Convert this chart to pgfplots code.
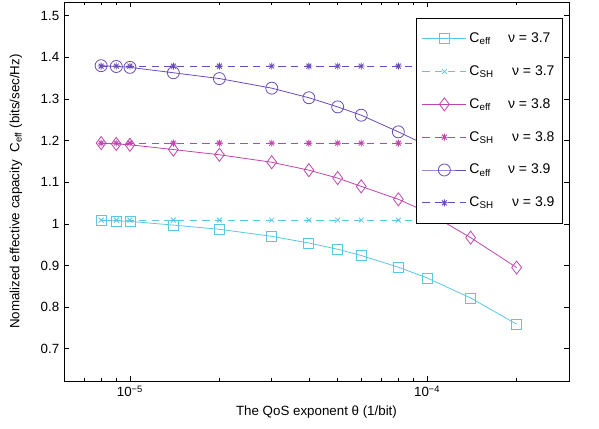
\documentclass[border=0pt]{standalone}
\usepackage{fontspec}
\setmainfont{Liberation Sans}
\usepackage{pgfplots}
\pgfplotsset{compat=1.18}

\definecolor{cy}{RGB}{90,200,225}
\definecolor{mg}{RGB}{190,70,170}
\definecolor{pu}{RGB}{105,75,185}

% MATLAB-like '*' marker
\pgfdeclareplotmark{matstar}{%
  \pgfpathmoveto{\pgfqpoint{-\pgfplotmarksize}{0pt}}\pgfpathlineto{\pgfqpoint{\pgfplotmarksize}{0pt}}%
  \pgfpathmoveto{\pgfqpoint{0pt}{-\pgfplotmarksize}}\pgfpathlineto{\pgfqpoint{0pt}{\pgfplotmarksize}}%
  \pgfpathmoveto{\pgfqpoint{-.707\pgfplotmarksize}{-.707\pgfplotmarksize}}\pgfpathlineto{\pgfqpoint{.707\pgfplotmarksize}{.707\pgfplotmarksize}}%
  \pgfpathmoveto{\pgfqpoint{-.707\pgfplotmarksize}{.707\pgfplotmarksize}}\pgfpathlineto{\pgfqpoint{.707\pgfplotmarksize}{-.707\pgfplotmarksize}}%
  \pgfusepathqstroke}

\pgfplotstableread{
theta    ceffA  cshA   ceffB  cshB   ceffC  cshC
8e-6     1.009  1.009  1.194  1.194  1.380  1.379
9e-6     1.007  1.009  1.192  1.194  1.378  1.379
1e-5     1.006  1.009  1.190  1.194  1.376  1.379
1.4e-5   0.997  1.009  1.1785 1.194  1.363  1.379
2e-5     0.987  1.009  1.166  1.194  1.349  1.379
3e-5     0.970  1.009  1.148  1.194  1.326  1.379
4e-5     0.954  1.009  1.129  1.194  1.303  1.379
5e-5     0.939  1.009  1.110  1.194  1.281  1.379
6e-5     0.924  1.009  1.090  1.194  1.261  1.379
8e-5     0.896  1.009  1.059  1.194  1.221  1.379
1e-4     0.870  1.009  1.028  1.194  1.188  1.379
1.4e-4   0.822  1.009  0.967  1.194  1.117  1.379
2e-4     0.759  1.009  0.895  1.194  1.034  1.379
}\data

\begin{document}
\begin{tikzpicture}
\begin{axis}[
  width=378.75pt, height=284.25pt, scale only axis,
  xmode=log, xmin=6e-6, xmax=3e-4,
  ymin=0.6225, ymax=1.533,
  xtick={1e-5,1e-4},
  xticklabels={10\textsuperscript{−5},10\textsuperscript{−4}},
  minor xtick={6e-6,7e-6,8e-6,9e-6,2e-5,3e-5,4e-5,5e-5,6e-5,7e-5,8e-5,9e-5,2e-4,3e-4},
  ytick={0.7,0.8,0.9,1,1.1,1.2,1.3,1.4,1.5},
  yticklabel style={/pgf/number format/fixed},
  /pgf/number format/assume math mode=true,
  tick align=inside,
  major tick length=4pt, minor tick length=2.5pt,
  tick style={black, line width=0.5pt},
  axis line style={black, line width=0.6pt},
  xlabel={The QoS exponent θ (1/bit)},
  ylabel={Nomalized effective capacity \ C\textsubscript{eff} (bits/sec/Hz)},
  ylabel shift=7pt,
  every axis plot/.append style={line width=0.6pt},
  legend cell align=left,
  legend style={at={(0.988,0.9586)}, anchor=north east, draw=black,
    line width=0.6pt, fill=white, row sep=11.8pt, inner ysep=9pt, inner xsep=4pt,
    font=\fontsize{10.5}{12}\selectfont},
  legend image code/.code={\draw[mark repeat=2,mark phase=2]
    plot coordinates {(0cm,0cm) (0.58cm,0cm) (1.16cm,0cm)};},
]
\addplot[cy, mark=square, mark size=3.75pt] table[x=theta,y=ceffA] {\data};
\addlegendentry{\makebox[29pt][l]{C\textsubscript{eff}}ν = 3.7}
\addplot[cy, dash pattern=on 5.5pt off 4pt, mark=x, mark size=2.6pt, mark options={solid}] table[x=theta,y=cshA] {\data};
\addlegendentry{\makebox[32pt][l]{C\textsubscript{SH}}ν = 3.7}
\addplot[mg, mark=diamond, mark size=4.9pt] table[x=theta,y=ceffB] {\data};
\addlegendentry{\makebox[29pt][l]{C\textsubscript{eff}}ν = 3.8}
\addplot[mg, dash pattern=on 5.5pt off 4pt, mark=matstar, mark size=2.6pt, mark options={solid}] table[x=theta,y=cshB] {\data};
\addlegendentry{\makebox[32pt][l]{C\textsubscript{SH}}ν = 3.8}
\addplot[pu, mark=o, mark size=4.5pt] table[x=theta,y=ceffC] {\data};
\addlegendentry{\makebox[29pt][l]{C\textsubscript{eff}}ν = 3.9}
\addplot[pu, dash pattern=on 5.5pt off 4pt, mark=matstar, mark size=2.6pt, mark options={solid}] table[x=theta,y=cshC] {\data};
\addlegendentry{\makebox[32pt][l]{C\textsubscript{SH}}ν = 3.9}
\end{axis}
\pgfresetboundingbox
\path ([shift={(-48pt,-35.25pt)}]current axis.south west) rectangle ([shift={(22.5pt,1.5pt)}]current axis.north east);
\end{tikzpicture}
\end{document}
